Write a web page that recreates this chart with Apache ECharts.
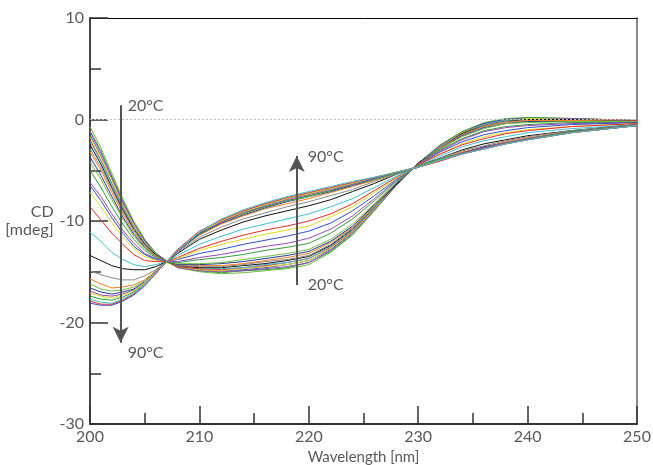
<!DOCTYPE html>
<html>
<head>
<meta charset="utf-8">
<script src="https://cdn.jsdelivr.net/npm/echarts@6/dist/echarts.min.js"></script>
<style>
html,body{margin:0;padding:0;background:#fff;}
#chart{width:653px;height:465px;}
</style>
</head>
<body>
<div id="chart"></div>
<script>
// Wavelength grid (nm)
const wavelengths = [200,201,202,203,204,205,206,207,208,210,212,214,216,218,220,222,224,226,228,230,232,234,236,238,240,244,250];
// Temperatures of the melt series (°C)
const temperatures = [20,22.5,25,27.5,30,32.5,35,37.5,40,42.5,45,47.5,50,52.5,55,57.5,60,62.5,65,67.5,70,72.5,75,77.5,80,82.5,85,87.5,90];

// CD spectra [mdeg], one array per temperature
const cd20   = [-0.7,-2.8,-5.3,-7.8,-10.0,-11.8,-13.1,-14.0,-14.6,-15.0,-15.2,-15.1,-14.9,-14.7,-14.3,-13.1,-11.4,-9.0,-6.5,-4.3,-2.6,-1.2,-0.3,0.1,0.2,0.1,-0.1];
const cd22_5 = [-1.1,-3.1,-5.6,-8.0,-10.2,-11.9,-13.2,-14.0,-14.5,-14.9,-15.1,-14.9,-14.8,-14.6,-14.1,-13.0,-11.3,-8.9,-6.4,-4.3,-2.5,-1.2,-0.4,0.0,0.2,0.1,-0.1];
const cd25   = [-1.2,-3.3,-5.7,-8.1,-10.2,-11.9,-13.2,-13.9,-14.6,-14.9,-15.0,-14.9,-14.7,-14.5,-14.1,-12.9,-11.2,-8.9,-6.5,-4.3,-2.6,-1.3,-0.4,0.0,0.1,0.1,-0.1];
const cd27_5 = [-1.5,-3.6,-5.9,-8.3,-10.4,-12.0,-13.2,-14.0,-14.5,-14.8,-14.9,-14.8,-14.6,-14.3,-13.9,-12.8,-11.1,-8.8,-6.4,-4.3,-2.7,-1.3,-0.4,0.0,0.1,0.0,-0.1];
const cd30   = [-1.7,-3.7,-6.0,-8.4,-10.4,-12.1,-13.2,-14.1,-14.5,-14.8,-14.9,-14.7,-14.5,-14.3,-13.9,-12.7,-11.1,-8.8,-6.4,-4.3,-2.7,-1.3,-0.5,-0.1,0.1,0.0,-0.1];
const cd32_5 = [-2.0,-4.0,-6.3,-8.6,-10.6,-12.2,-13.3,-14.0,-14.5,-14.7,-14.8,-14.6,-14.4,-14.1,-13.7,-12.6,-11.0,-8.7,-6.4,-4.3,-2.7,-1.4,-0.5,-0.1,0.0,0.0,-0.1];
const cd35   = [-2.2,-4.1,-6.4,-8.7,-10.6,-12.2,-13.3,-14.0,-14.4,-14.6,-14.7,-14.6,-14.3,-14.1,-13.7,-12.5,-10.9,-8.7,-6.4,-4.3,-2.7,-1.4,-0.5,-0.1,0.0,0.0,-0.2];
const cd37_5 = [-2.5,-4.4,-6.7,-8.9,-10.8,-12.3,-13.3,-14.0,-14.4,-14.6,-14.6,-14.4,-14.2,-13.9,-13.5,-12.4,-10.8,-8.6,-6.4,-4.3,-2.8,-1.4,-0.6,-0.2,0.0,0.0,-0.2];
const cd40   = [-2.9,-4.7,-6.9,-9.1,-10.9,-12.4,-13.4,-14.0,-14.4,-14.5,-14.5,-14.3,-14.0,-13.8,-13.4,-12.3,-10.7,-8.6,-6.3,-4.4,-2.8,-1.5,-0.6,-0.2,-0.1,-0.1,-0.2];
const cd42_5 = [-3.2,-5.0,-7.2,-9.3,-11.1,-12.5,-13.4,-14.0,-14.3,-14.4,-14.4,-14.2,-13.9,-13.6,-13.2,-12.1,-10.6,-8.5,-6.3,-4.4,-2.8,-1.5,-0.7,-0.3,-0.1,-0.1,-0.2];
const cd45   = [-3.7,-5.5,-7.6,-9.6,-11.3,-12.6,-13.5,-14.0,-14.3,-14.3,-14.2,-14.0,-13.7,-13.4,-13.0,-12.0,-10.5,-8.4,-6.3,-4.4,-2.9,-1.6,-0.8,-0.4,-0.2,-0.2,-0.2];
const cd47_5 = [-4.2,-5.9,-7.9,-9.8,-11.5,-12.7,-13.5,-14.0,-14.2,-14.2,-14.1,-13.8,-13.5,-13.2,-12.8,-11.8,-10.3,-8.3,-6.2,-4.4,-2.9,-1.7,-0.9,-0.4,-0.3,-0.2,-0.2];
const cd50   = [-5.0,-6.7,-8.6,-10.3,-11.8,-12.9,-13.6,-14.0,-14.1,-13.8,-13.6,-13.3,-12.9,-12.6,-12.2,-11.2,-9.8,-8.0,-6.1,-4.4,-3.0,-1.9,-1.1,-0.7,-0.5,-0.3,-0.3];
const cd52_5 = [-6.2,-7.6,-9.3,-10.9,-12.2,-13.2,-13.7,-14.0,-14.0,-13.6,-13.3,-12.9,-12.5,-12.2,-11.7,-10.8,-9.5,-7.8,-6.0,-4.4,-3.1,-2.0,-1.2,-0.8,-0.6,-0.4,-0.3];
const cd55   = [-6.5,-8.0,-9.7,-11.2,-12.5,-13.3,-13.8,-14.0,-13.8,-13.2,-12.8,-12.3,-11.9,-11.5,-11.0,-10.2,-9.0,-7.5,-5.9,-4.5,-3.2,-2.2,-1.5,-1.1,-0.8,-0.5,-0.3];
const cd57_5 = [-7.2,-8.6,-10.2,-11.6,-12.7,-13.5,-13.9,-14.0,-13.7,-12.9,-12.3,-11.8,-11.3,-10.9,-10.5,-9.6,-8.6,-7.2,-5.8,-4.5,-3.4,-2.4,-1.7,-1.3,-1.0,-0.7,-0.4];
const cd60   = [-8.6,-9.9,-11.2,-12.3,-13.3,-13.9,-14.0,-14.0,-13.6,-12.7,-12.0,-11.4,-10.9,-10.5,-10.0,-9.3,-8.3,-7.0,-5.7,-4.5,-3.4,-2.5,-1.9,-1.4,-1.1,-0.7,-0.4];
const cd62_5 = [-11.1,-12.0,-13.1,-13.8,-14.3,-14.5,-14.3,-14.0,-13.4,-12.3,-11.5,-10.8,-10.3,-9.8,-9.3,-8.6,-7.8,-6.7,-5.6,-4.6,-3.6,-2.7,-2.1,-1.7,-1.3,-0.9,-0.5];
const cd65   = [-13.4,-13.9,-14.4,-14.7,-14.8,-14.8,-14.5,-14.0,-13.2,-11.8,-10.9,-10.1,-9.5,-9.0,-8.5,-7.9,-7.1,-6.3,-5.4,-4.6,-3.8,-3.0,-2.4,-2.0,-1.6,-1.1,-0.5];
const cd67_5 = [-14.9,-15.3,-15.6,-15.8,-15.8,-15.4,-14.8,-14.0,-13.1,-11.6,-10.6,-9.8,-9.2,-8.6,-8.1,-7.5,-6.9,-6.1,-5.4,-4.7,-3.8,-3.1,-2.6,-2.1,-1.7,-1.1,-0.5];
const cd70   = [-15.7,-16.2,-16.6,-16.5,-16.3,-15.8,-14.9,-14.0,-13.0,-11.4,-10.3,-9.5,-8.8,-8.3,-7.8,-7.2,-6.6,-6.0,-5.3,-4.7,-3.9,-3.2,-2.7,-2.2,-1.8,-1.2,-0.6];
const cd72_5 = [-16.6,-17.0,-17.2,-17.0,-16.7,-16.0,-15.0,-14.0,-13.0,-11.3,-10.2,-9.4,-8.7,-8.1,-7.6,-7.1,-6.5,-5.9,-5.3,-4.7,-3.9,-3.3,-2.7,-2.3,-1.9,-1.2,-0.6];
const cd75   = [-16.2,-16.7,-16.9,-16.8,-16.5,-15.9,-15.0,-14.1,-12.9,-11.2,-10.1,-9.3,-8.6,-8.0,-7.6,-7.0,-6.4,-5.9,-5.3,-4.6,-3.9,-3.3,-2.8,-2.3,-1.9,-1.3,-0.6];
const cd77_5 = [-17.4,-17.7,-17.8,-17.5,-17.0,-16.2,-15.1,-14.0,-13.0,-11.3,-10.1,-9.2,-8.6,-8.0,-7.5,-7.0,-6.4,-5.8,-5.3,-4.7,-3.9,-3.3,-2.8,-2.3,-1.9,-1.2,-0.6];
const cd80   = [-16.9,-17.3,-17.4,-17.2,-16.8,-16.1,-15.0,-14.0,-13.0,-11.2,-10.1,-9.2,-8.5,-7.9,-7.4,-6.9,-6.4,-5.8,-5.2,-4.7,-4.0,-3.3,-2.8,-2.3,-1.9,-1.3,-0.6];
const cd82_5 = [-18.1,-18.3,-18.3,-17.9,-17.3,-16.4,-15.2,-14.0,-12.9,-11.2,-10.0,-9.1,-8.4,-7.8,-7.3,-6.8,-6.3,-5.8,-5.2,-4.7,-4.0,-3.4,-2.9,-2.4,-2.0,-1.3,-0.6];
const cd85   = [-17.1,-17.4,-17.6,-17.3,-16.9,-16.1,-15.1,-14.0,-12.9,-11.1,-10.0,-9.1,-8.4,-7.8,-7.3,-6.8,-6.3,-5.7,-5.2,-4.7,-4.0,-3.4,-2.9,-2.4,-2.0,-1.3,-0.6];
const cd87_5 = [-17.9,-18.2,-18.2,-17.8,-17.2,-16.3,-15.2,-14.0,-12.8,-11.0,-9.9,-9.0,-8.3,-7.7,-7.2,-6.7,-6.2,-5.7,-5.2,-4.7,-4.1,-3.4,-2.9,-2.4,-2.0,-1.3,-0.6];
const cd90   = [-17.7,-18.0,-18.1,-17.7,-17.1,-16.3,-15.1,-14.0,-12.9,-11.1,-9.8,-8.9,-8.2,-7.6,-7.1,-6.6,-6.1,-5.7,-5.2,-4.7,-4.0,-3.4,-2.9,-2.4,-2.0,-1.3,-0.6];

const spectra = [cd20,cd22_5,cd25,cd27_5,cd30,cd32_5,cd35,cd37_5,cd40,cd42_5,cd45,cd47_5,cd50,cd52_5,cd55,cd57_5,cd60,cd62_5,cd65,cd67_5,cd70,cd72_5,cd75,cd77_5,cd80,cd82_5,cd85,cd87_5,cd90];

// Axis ticks
const xTicks = {min:200, max:250, interval:10};
const yTicks = {min:-30, max:10, interval:10};

// Annotation arrows (data coordinates) and their labels
const arrowLowT = {x:202.8, from:1.4, to:-22.0, fromLabel:'20°C', toLabel:'90°C', fromLabelY:1.3, toLabelY:-23.0};
const arrowHighT = {x:218.9, from:-16.3, to:-3.6, fromLabel:'20°C', toLabel:'90°C', fromLabelY:-16.3, toLabelY:-3.7};

const palette = ['#2f9e3f','#9a48b8','#2d4fd0','#e3dd1a','#e8292a','#3cc2d6','#111111','#8a8a8a','#f07f1f','#263a9a','#6fbf3f'];
const FONT = 'Lato, "Open Sans", sans-serif';
const TXT = '#5a5a5a';

const chart = echarts.init(document.getElementById('chart'), null, {renderer:'canvas'});

const series = spectra.map((vals, i) => ({
  name: temperatures[i] + '°C',
  type: 'line',
  data: wavelengths.map((w, k) => [w, vals[k]]),
  symbol: 'none',
  silent: true,
  lineStyle: {width: 1, color: palette[(i + 10) % palette.length]},
  z: 3
}));

// zero reference line
series.unshift({
  type: 'line', data: [], silent: true, z: 2,
  markLine: {
    silent: true, symbol: 'none', animation: false,
    label: {show: false},
    lineStyle: {type: [2, 2], color: '#bdbdbd', width: 1},
    data: [{yAxis: 0}]
  }
});

function arrowSeries(a, dist) {
  return {
    type: 'line', data: [], silent: true, z: 10,
    markLine: {
      silent: true, animation: false,
      symbol: ['none', 'arrow'], symbolSize: [12, 16],
      label: {show: false},
      lineStyle: {type: 'solid', color: '#555', width: 2},
      data: [[{coord: [a.x, a.from]}, {coord: [a.x, a.to]}]]
    },
    markPoint: {
      silent: true, animation: false,
      symbol: 'circle', symbolSize: 0,
      label: {show: true, position: 'right', distance: dist, formatter: '{b}',
              fontFamily: FONT, fontSize: 16, color: TXT},
      data: [
        {name: a.fromLabel, coord: [a.x, a.fromLabelY]},
        {name: a.toLabel, coord: [a.x, a.toLabelY]}
      ]
    }
  };
}
series.push(arrowSeries(arrowLowT, 7));
series.push(arrowSeries(arrowHighT, 11));

chart.setOption({
  animation: false,
  backgroundColor: '#fff',
  grid: {left: 90, right: 16, top: 18, bottom: 41, containLabel: false, outerBoundsMode: 'none'},
  xAxis: [{
    type: 'value', min: xTicks.min, max: xTicks.max, interval: xTicks.interval,
    name: 'Wavelength [nm]', nameLocation: 'middle', nameGap: 24,
    nameTextStyle: {fontFamily: FONT, fontSize: 15, color: TXT},
    axisLine: {show: true, onZero: false, lineStyle: {color: '#333', width: 2}},
    axisTick: {show: true, inside: true, length: 18, lineStyle: {color: '#333', width: 1.5}},
    minorTick: {show: true, splitNumber: 2, length: 11, lineStyle: {color: '#333', width: 1.5}},
    axisLabel: {fontFamily: FONT, fontSize: 16, color: TXT, margin: 5},
    splitLine: {show: false}
  }, {
    type: 'value', position: 'top', min: xTicks.min, max: xTicks.max,
    axisLine: {show: true, onZero: false, lineStyle: {color: '#000', width: 1}},
    axisTick: {show: false}, axisLabel: {show: false}, splitLine: {show: false}
  }],
  yAxis: [{
    type: 'value', min: yTicks.min, max: yTicks.max, interval: yTicks.interval,
    name: 'CD\n[mdeg]', nameLocation: 'middle', nameGap: 27, nameRotate: 0,
    nameTextStyle: {fontFamily: FONT, fontSize: 16, color: TXT, align: 'right', lineHeight: 18},
    axisLine: {show: true, onZero: false, lineStyle: {color: '#444', width: 2}},
    axisTick: {show: true, inside: true, length: 18, lineStyle: {color: '#333', width: 1.5}},
    minorTick: {show: true, splitNumber: 2, length: 11, lineStyle: {color: '#333', width: 1.5}},
    axisLabel: {fontFamily: FONT, fontSize: 16, color: TXT, margin: 6},
    splitLine: {show: false}
  }, {
    type: 'value', position: 'right', min: yTicks.min, max: yTicks.max,
    axisLine: {show: true, onZero: false, lineStyle: {color: '#888', width: 2}},
    axisTick: {show: false}, axisLabel: {show: false}, splitLine: {show: false}
  }],
  series: series
});
</script>
</body>
</html>
